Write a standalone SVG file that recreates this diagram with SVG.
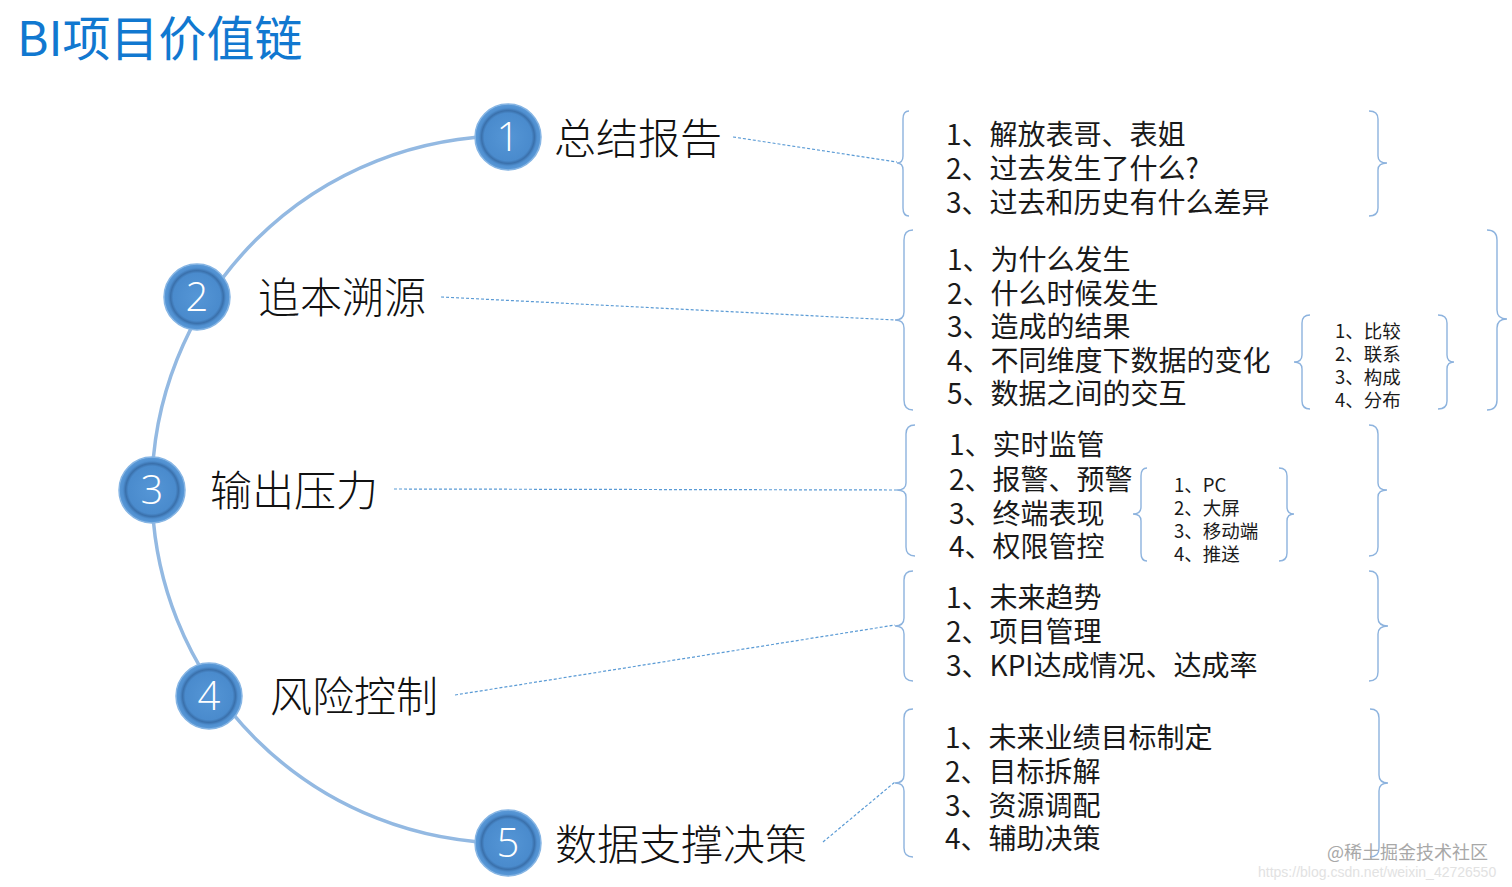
<svg xmlns="http://www.w3.org/2000/svg" width="1512" height="887" viewBox="0 0 1512 887">
<defs>
<radialGradient id="cg" cx="50%" cy="50%" r="50%">
<stop offset="0" stop-color="#5596d6"/>
<stop offset="0.72" stop-color="#4a8bcd"/>
<stop offset="0.8" stop-color="#3a70ab"/>
<stop offset="0.88" stop-color="#4f8fd0"/>
<stop offset="1" stop-color="#5b9ad8"/>
</radialGradient>
</defs>
<style>
.title{font-family:"Noto Sans CJK SC","Noto Sans",sans-serif;font-size:48px;fill:#1178d0}
.lbl{font-family:"Noto Sans CJK SC",sans-serif;font-size:42px;font-weight:300;fill:#111}
.num{font-family:"Open Sans","Liberation Sans",sans-serif;font-size:40px;font-weight:300;fill:#fff;text-anchor:middle}
.ring{fill:url(#cg);stroke:#86b5e4;stroke-width:1.5}
.t{font-family:"Noto Sans CJK SC",sans-serif;font-size:28px;fill:#1a1a1a}
.s{font-family:"Noto Sans CJK SC",sans-serif;font-size:18.5px;fill:#1a1a1a}
.dot{fill:none;stroke:#5b9bd5;stroke-width:1.2;stroke-dasharray:3 2}
.br{fill:none;stroke:#8db3de;stroke-width:1.4}
.arc{fill:none;stroke:#93b9e2;stroke-width:3.5}
</style>
<rect width="1512" height="887" fill="#fff"/>
<text class="title" x="17" y="56">BI项目价值链</text>

<g id="connectors">
<path class="arc" d="M 508 136 A 356 353.5 0 0 0 508 843"/>
<line class="dot" x1="733" y1="137" x2="897" y2="162"/>
<line class="dot" x1="441" y1="297" x2="895" y2="320"/>
<line class="dot" x1="394" y1="489" x2="897" y2="490"/>
<line class="dot" x1="455" y1="695" x2="895" y2="625"/>
<line class="dot" x1="823" y1="842" x2="895" y2="782"/>
</g>

<g id="n1">
<circle class="ring" cx="508" cy="137" r="33"/>
<text class="num" x="508" y="151">1</text>
<text class="lbl" x="554" y="154">总结报告</text>
</g>
<g id="n2">
<circle class="ring" cx="197" cy="297" r="33"/>
<text class="num" x="197" y="311">2</text>
<text class="lbl" x="258" y="313">追本溯源</text>
</g>
<g id="n3">
<circle class="ring" cx="152" cy="490" r="33"/>
<text class="num" x="152" y="504">3</text>
<text class="lbl" x="210" y="506">输出压力</text>
</g>
<g id="n4">
<circle class="ring" cx="209" cy="696" r="33"/>
<text class="num" x="209" y="710">4</text>
<text class="lbl" x="270" y="712">风险控制</text>
</g>
<g id="n5">
<circle class="ring" cx="508" cy="843" r="33"/>
<text class="num" x="508" y="857">5</text>
<text class="lbl" x="555" y="860">数据支撑决策</text>
</g>

<g id="box1">
<path class="br" d="M 909 111 Q 903 111 903 119 L 903 156 Q 903 163 897 163 Q 903 163 903 170 L 903 208 Q 903 216 909 216"/>
<path class="br" d="M 1369 111 Q 1378 111 1378 119 L 1378 156 Q 1378 163 1387 163 Q 1378 163 1378 170 L 1378 208 Q 1378 216 1369 216"/>
<text class="t" x="946" y="145">1、解放表哥、表姐</text>
<text class="t" x="946" y="179">2、过去发生了什么?</text>
<text class="t" x="946" y="213">3、过去和历史有什么差异</text>
</g>

<g id="box2">
<path class="br" d="M 913 230 Q 904 230 904 240 L 904 312 Q 904 320 895 320 Q 904 320 904 328 L 904 400 Q 904 410 913 410"/>
<path class="br" d="M 1487 230 Q 1497 230 1497 240 L 1497 310 Q 1497 319 1507 319 Q 1497 319 1497 328 L 1497 400 Q 1497 410 1487 410"/>
<text class="t" x="947" y="270">1、为什么发生</text>
<text class="t" x="947" y="304">2、什么时候发生</text>
<text class="t" x="947" y="337">3、造成的结果</text>
<text class="t" x="947" y="371">4、不同维度下数据的变化</text>
<text class="t" x="947" y="404">5、数据之间的交互</text>
</g>

<g id="box2b">
<path class="br" d="M 1310 315 Q 1302 315 1302 323 L 1302 355 Q 1302 362 1294 362 Q 1302 362 1302 369 L 1302 401 Q 1302 409 1310 409"/>
<path class="br" d="M 1438 315 Q 1447 315 1447 323 L 1447 355 Q 1447 362 1454 362 Q 1447 362 1447 369 L 1447 401 Q 1447 409 1438 409"/>
<text class="s" x="1335" y="338">1、比较</text>
<text class="s" x="1335" y="361">2、联系</text>
<text class="s" x="1335" y="384">3、构成</text>
<text class="s" x="1335" y="407">4、分布</text>
</g>

<g id="box3">
<path class="br" d="M 915 425 Q 906 425 906 434 L 906 483 Q 906 490 897 490 Q 906 490 906 497 L 906 547 Q 906 556 915 556"/>
<path class="br" d="M 1369 425 Q 1378 425 1378 434 L 1378 483 Q 1378 490 1387 490 Q 1378 490 1378 497 L 1378 547 Q 1378 556 1369 556"/>
<text class="t" x="949" y="455">1、实时监管</text>
<text class="t" x="949" y="490">2、报警、预警</text>
<text class="t" x="949" y="524">3、终端表现</text>
<text class="t" x="949" y="557">4、权限管控</text>
</g>

<g id="box3b">
<path class="br" d="M 1147 468 Q 1141 468 1141 476 L 1141 507 Q 1141 514 1133 514 Q 1141 514 1141 521 L 1141 553 Q 1141 561 1147 561"/>
<path class="br" d="M 1279 468 Q 1287 468 1287 476 L 1287 507 Q 1287 514 1294 514 Q 1287 514 1287 521 L 1287 553 Q 1287 561 1279 561"/>
<text class="s" x="1174" y="492">1、PC</text>
<text class="s" x="1174" y="515">2、大屏</text>
<text class="s" x="1174" y="538">3、移动端</text>
<text class="s" x="1174" y="561">4、推送</text>
</g>

<g id="box4">
<path class="br" d="M 913 571 Q 904 571 904 580 L 904 618 Q 904 626 895 626 Q 904 626 904 634 L 904 672 Q 904 681 913 681"/>
<path class="br" d="M 1369 571 Q 1378 571 1378 580 L 1378 618 Q 1378 626 1388 626 Q 1378 626 1378 634 L 1378 672 Q 1378 681 1369 681"/>
<text class="t" x="946" y="608">1、未来趋势</text>
<text class="t" x="946" y="642">2、项目管理</text>
<text class="t" x="946" y="676">3、KPI达成情况、达成率</text>
</g>

<g id="box5">
<path class="br" d="M 913 709 Q 904 709 904 718 L 904 775 Q 904 783 895 783 Q 904 783 904 791 L 904 848 Q 904 857 913 857"/>
<path class="br" d="M 1370 709 Q 1379 709 1379 718 L 1379 775 Q 1379 783 1388 783 Q 1379 783 1379 791 L 1379 848 Q 1379 857 1370 857"/>
<text class="t" x="945" y="748">1、未来业绩目标制定</text>
<text class="t" x="945" y="782">2、目标拆解</text>
<text class="t" x="945" y="816">3、资源调配</text>
<text class="t" x="945" y="849">4、辅助决策</text>
</g>

<text x="1327" y="859" font-family="Noto Sans CJK SC,sans-serif" font-size="18" fill="#a8a8a8">@稀土掘金技术社区</text>
<text x="1258" y="877" font-family="Liberation Sans,sans-serif" font-size="14" fill="#e2e2e2">https://blog.csdn.net/weixin_42726550</text>
</svg>
